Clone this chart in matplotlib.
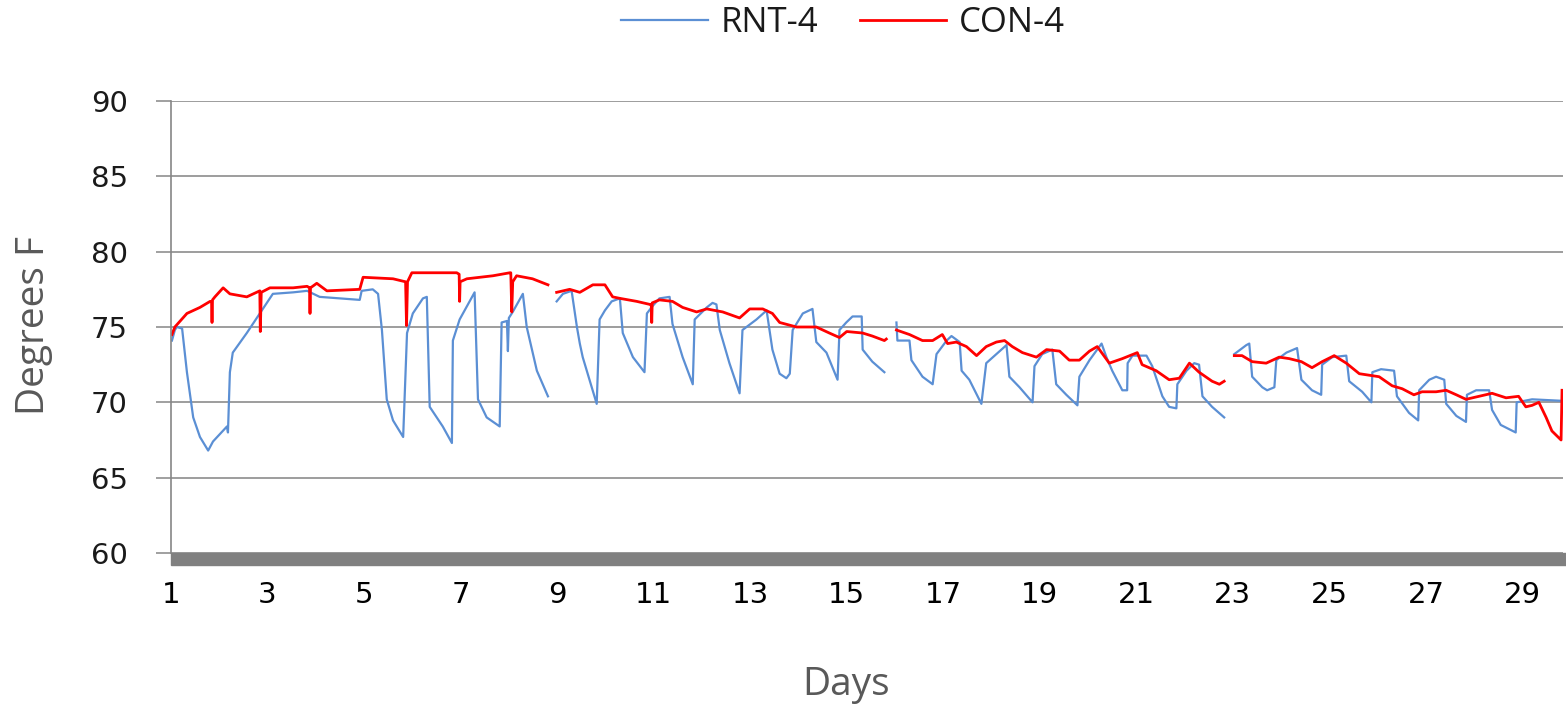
import numpy as np
import matplotlib.pyplot as plt
from matplotlib.patches import Rectangle

nan = np.nan

# RNT-4 readings (day, deg F); nan marks gaps in the logger record
rnt_days = [1.02, 1.08, 1.12, 1.23, 1.33, 1.46, 1.60, 1.77, 1.87, 2.16, 2.18, 2.22, 2.28, 2.57, 2.84,
            3.11, 3.53, 3.82, 4.08, 4.91, 4.95, 5.18, 5.29, 5.37, 5.47, 5.60, 5.81, 5.89, 6.01, 6.22,
            6.30, 6.36, 6.63, 6.82, 6.84, 6.98, 7.29, 7.36, 7.54, 7.81, 7.85, 7.96, 7.98, 8.00, 8.08,
            8.29, 8.37, 8.58, 8.81, 8.90,
            8.99, 9.12, 9.30, 9.41, 9.47, 9.53, 9.67, 9.82, 9.88, 9.99, 10.13, 10.30, 10.36, 10.57,
            10.81, 10.86, 10.98, 11.12, 11.33, 11.39, 11.60, 11.81, 11.85, 12.10, 12.22, 12.30, 12.37,
            12.57, 12.78, 12.84, 13.13, 13.34, 13.46, 13.61, 13.75, 13.82, 13.88, 14.09, 14.29, 14.37,
            14.58, 14.81, 14.85, 14.99, 15.12, 15.31, 15.33, 15.53, 15.78, 15.90,
            16.03, 16.05, 16.30, 16.34, 16.57, 16.78, 16.86, 17.07, 17.17, 17.34, 17.38, 17.54, 17.79,
            17.89, 18.10, 18.31, 18.37, 18.58, 18.85, 18.89, 19.05, 19.26, 19.34, 19.55, 19.78, 19.82,
            20.03, 20.28, 20.38, 20.50, 20.71, 20.81, 20.82, 20.92, 21.21, 21.33, 21.54, 21.68, 21.83,
            21.85, 22.04, 22.20, 22.30, 22.37, 22.57, 22.82, 22.92,
            23.03, 23.28, 23.34, 23.40, 23.61, 23.71, 23.86, 23.90, 24.11, 24.33, 24.42, 24.64, 24.83,
            24.85, 25.06, 25.35, 25.41, 25.68, 25.87, 25.89, 26.07, 26.34, 26.40, 26.65, 26.84, 26.86,
            27.07, 27.21, 27.38, 27.42, 27.63, 27.83, 27.85, 28.04, 28.31, 28.37, 28.55, 28.86, 28.88,
            29.20, 29.82]
rnt_temp = [74.1, 74.8, 75.0, 74.9, 72.0, 69.0, 67.7, 66.8, 67.4, 68.4, 68.0, 72.0, 73.3, 74.6, 75.9,
            77.2, 77.3, 77.4, 77.0, 76.8, 77.4, 77.5, 77.2, 74.8, 70.2, 68.8, 67.7, 74.6, 75.9, 76.9,
            77.0, 69.7, 68.4, 67.3, 74.1, 75.5, 77.3, 70.2, 69.0, 68.4, 75.3, 75.4, 73.4, 75.6, 76.0,
            77.2, 75.0, 72.1, 70.4, nan,
            76.7, 77.2, 77.4, 75.0, 73.9, 73.0, 71.5, 69.9, 75.5, 76.1, 76.7, 76.9, 74.6, 73.0,
            72.0, 75.9, 76.4, 76.9, 77.0, 75.2, 73.0, 71.2, 75.5, 76.3, 76.6, 76.5, 74.8,
            72.6, 70.6, 74.8, 75.5, 76.1, 73.5, 71.9, 71.6, 71.9, 74.8, 75.9, 76.2, 74.0,
            73.3, 71.5, 74.8, 75.3, 75.7, 75.7, 73.5, 72.7, 72.0, nan,
            75.3, 74.1, 74.1, 72.8, 71.7, 71.2, 73.2, 74.1, 74.4, 74.0, 72.1, 71.5, 69.9,
            72.6, 73.2, 73.8, 71.7, 71.0, 70.0, 72.4, 73.2, 73.5, 71.2, 70.5, 69.8, 71.7,
            72.8, 73.9, 73.0, 72.1, 70.8, 70.8, 72.6, 73.1, 73.1, 72.4, 70.4, 69.7, 69.6,
            71.2, 72.1, 72.6, 72.5, 70.4, 69.7, 69.0, nan,
            73.2, 73.8, 73.9, 71.7, 71.0, 70.8, 71.0, 72.8, 73.3, 73.6, 71.5, 70.8, 70.5,
            72.5, 73.0, 73.1, 71.4, 70.7, 70.0, 72.0, 72.2, 72.1, 70.4, 69.3, 68.8, 70.8,
            71.5, 71.7, 71.5, 69.9, 69.1, 68.7, 70.5, 70.8, 70.8, 69.5, 68.5, 68.0, 70.0,
            70.2, 70.1]

# CON-4 readings (day, deg F)
con_days = [1.02, 1.08, 1.33, 1.60, 1.81, 1.84, 1.85, 1.86, 1.91, 2.08, 2.22, 2.57, 2.84, 2.85, 2.87,
            3.05, 3.53, 3.82, 3.87, 3.88, 3.89, 4.02, 4.23, 4.91, 4.98, 5.60, 5.86, 5.88, 5.90, 5.99,
            6.92, 6.97, 6.98, 6.99, 7.13, 7.67, 8.02, 8.04, 8.06, 8.08, 8.16, 8.49, 8.81, 8.90,
            8.99, 9.26, 9.47, 9.74, 9.99, 10.15, 10.30, 10.65, 10.92, 10.95, 10.96, 10.97, 11.12,
            11.39, 11.60, 11.89, 12.10, 12.43, 12.78, 12.99, 13.26, 13.46, 13.61, 13.96, 14.37, 14.64,
            14.85, 15.00, 15.33, 15.53, 15.78, 15.82, 15.90,
            16.03, 16.30, 16.57, 16.78, 16.98, 17.09, 17.27, 17.48, 17.69, 17.89, 18.10, 18.27, 18.43,
            18.64, 18.93, 19.14, 19.41, 19.61, 19.82, 20.03, 20.19, 20.44, 20.71, 21.02, 21.12, 21.41,
            21.68, 21.89, 22.10, 22.30, 22.57, 22.72, 22.82, 22.92,
            23.03, 23.19, 23.40, 23.69, 23.96, 24.17, 24.42, 24.64, 24.85, 25.10, 25.35, 25.62, 25.82,
            26.03, 26.30, 26.51, 26.75, 26.92, 27.21, 27.42, 27.63, 27.83, 28.10, 28.37, 28.66, 28.92,
            29.07, 29.20, 29.34, 29.49, 29.61, 29.80, 29.82]
con_temp = [74.5, 75.0, 75.9, 76.3, 76.7, 76.7, 75.3, 76.8, 77.0, 77.6, 77.2, 77.0, 77.4, 74.7, 77.3,
            77.6, 77.6, 77.7, 77.6, 75.9, 77.6, 77.9, 77.4, 77.5, 78.3, 78.2, 78.0, 75.1, 78.0, 78.6,
            78.6, 78.5, 76.7, 78.0, 78.2, 78.4, 78.6, 78.6, 76.0, 78.0, 78.4, 78.2, 77.8, nan,
            77.3, 77.5, 77.3, 77.8, 77.8, 77.0, 76.9, 76.7, 76.5, 76.5, 75.3, 76.6, 76.8,
            76.7, 76.3, 76.0, 76.2, 76.0, 75.6, 76.2, 76.2, 75.9, 75.3, 75.0, 75.0, 74.6,
            74.3, 74.7, 74.6, 74.4, 74.1, 74.2, nan,
            74.8, 74.5, 74.1, 74.1, 74.5, 73.9, 74.0, 73.7, 73.1, 73.7, 74.0, 74.1, 73.7,
            73.3, 73.0, 73.5, 73.4, 72.8, 72.8, 73.4, 73.7, 72.6, 72.9, 73.3, 72.5, 72.1,
            71.5, 71.6, 72.6, 72.0, 71.4, 71.2, 71.4, nan,
            73.1, 73.1, 72.7, 72.6, 73.0, 72.9, 72.7, 72.3, 72.7, 73.1, 72.6, 71.9, 71.8,
            71.7, 71.1, 70.9, 70.5, 70.7, 70.7, 70.8, 70.5, 70.2, 70.4, 70.6, 70.3, 70.4,
            69.7, 69.8, 70.0, 69.0, 68.1, 67.5, 70.8]

day_ticks = list(range(1, 30, 2))
temp_ticks = [60, 65, 70, 75, 80, 85, 90]

fig = plt.figure(figsize=(15.66, 7.06), dpi=100)
ax = fig.add_axes([171 / 1566, 1 - 553 / 706, (1563 - 171) / 1566, (553 - 101) / 706])

ax.plot(rnt_days, rnt_temp, color="#5b8fd4", lw=1.6, label="RNT-4")
ax.plot(con_days, con_temp, color="#ff0000", lw=2.0, label="CON-4")

ax.set_xlim(1, 29.84)
ax.set_ylim(60, 90)
ax.set_yticks(temp_ticks)
ax.set_xticks(day_ticks)
ax.set_xticklabels([str(d) for d in day_ticks], fontsize=21, color="black")
ax.tick_params(axis="x", length=0, pad=20)
ax.tick_params(axis="y", length=11, width=1.1, color="#868686", pad=20, labelsize=21,
               labelcolor="#1a1a1a")
ax.grid(axis="y", color="#8c8c8c", lw=1.2)
for side in ["top", "right", "bottom"]:
    ax.spines[side].set_visible(False)
ax.spines["left"].set_color("#868686")
ax.spines["left"].set_linewidth(1.2)

# grey floor strip under the plot area
fig.patches.append(Rectangle((171 / 1566, 1 - 565 / 706), (1566 - 171) / 1566, 12 / 706,
                             transform=fig.transFigure, color="#808080", zorder=3))

ax.set_ylabel("Degrees F", fontsize=28, color="#595959", family="Open Sans")
ax.yaxis.set_label_coords(-0.085, 0.504)
ax.set_xlabel("Days", fontsize=28, color="#595959", family="Open Sans")
ax.xaxis.set_label_coords(0.485, -0.25)

fig.legend(loc="center", bbox_to_anchor=(843 / 1566, 1 - 23 / 706), ncol=2, frameon=False,
           prop={"family": "Open Sans", "size": 25}, handlelength=2.5, handletextpad=0.35,
           columnspacing=1.2, labelcolor="#1a1a1a")

fig.savefig("out.png", dpi=100)
